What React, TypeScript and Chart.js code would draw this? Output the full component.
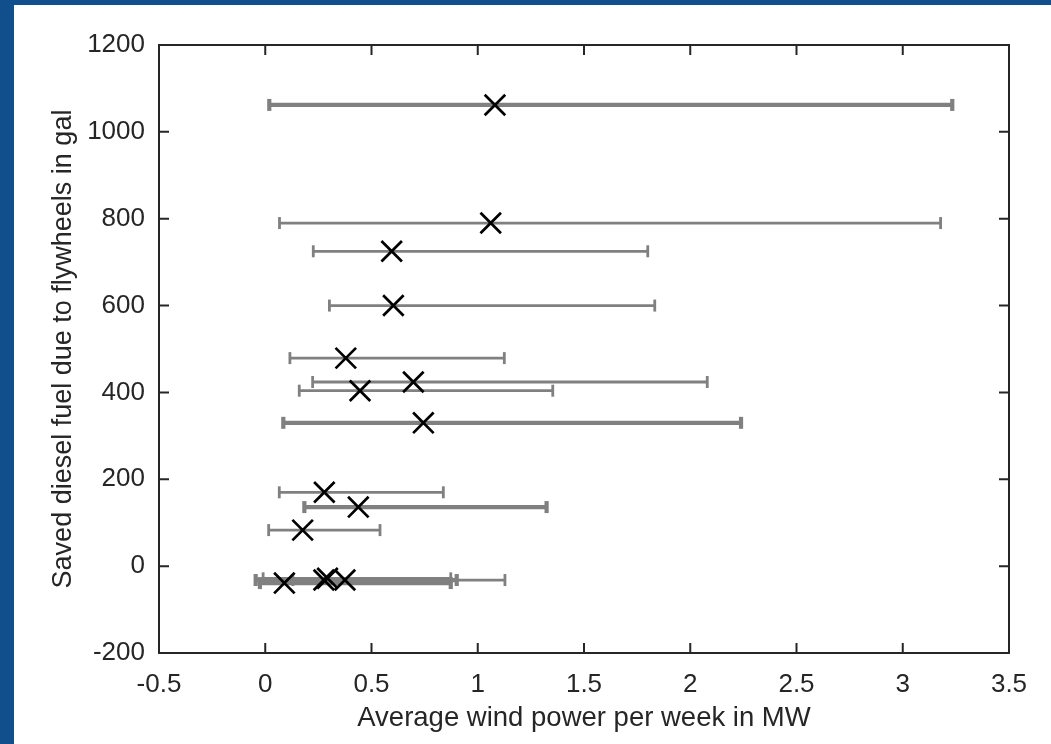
import React, { useEffect, useRef } from "react";
import { Chart, registerables } from "chart.js";

Chart.register(...registerables);

// Average wind power per week (MW) – marker position
const windMean = [1.081, 1.061, 0.595, 0.603, 0.379, 0.697, 0.446, 0.744, 0.278, 0.438, 0.176, 0.09, 0.276, 0.293, 0.375];
// Saved diesel fuel (gal)
const savedFuel = [1062, 790, 725, 600, 479, 424, 404, 330, 170, 136, 83, -39, -32, -28, -32];
// Error bar ends (MW)
const windLow = [0.019, 0.067, 0.226, 0.302, 0.116, 0.223, 0.16, 0.085, 0.066, 0.184, 0.016, -0.025, -0.045, -0.01, 0.13];
const windHigh = [3.233, 3.178, 1.8, 1.833, 1.125, 2.08, 1.353, 2.239, 0.838, 1.324, 0.54, 0.873, 0.901, 0.873, 1.128];

const xTickLabels = ["-0.5", "0", "0.5", "1", "1.5", "2", "2.5", "3", "3.5"];
const yTickLabels = ["-200", "0", "200", "400", "600", "800", "1000", "1200"];

// styling: which error bars are drawn heavier
const heavyBars = [true, false, false, false, false, false, false, true, false, true, false, true, true, false, false];

const FONT = "'Liberation Sans', Arial, Helvetica, sans-serif";
const INK = "#262626";
const GRAY = "#808080";

const framePlugin = {
  id: "matlabFrame",
  afterDraw(chart: any) {
    const { ctx, chartArea } = chart;
    const { left, top, right, bottom } = chartArea;
    const xs = chart.scales.x;
    const ys = chart.scales.y;
    ctx.save();
    ctx.strokeStyle = INK;
    ctx.lineWidth = 2;
    ctx.beginPath();
    ctx.rect(left, top, right - left, bottom - top);
    ctx.stroke();
    const tl = 10;
    ctx.beginPath();
    xs.ticks.forEach((t: any) => {
      const px = xs.getPixelForValue(t.value);
      ctx.moveTo(px, bottom);
      ctx.lineTo(px, bottom - tl);
      ctx.moveTo(px, top);
      ctx.lineTo(px, top + tl);
    });
    ys.ticks.forEach((t: any) => {
      const py = ys.getPixelForValue(t.value);
      ctx.moveTo(left, py);
      ctx.lineTo(left + tl, py);
      ctx.moveTo(right, py);
      ctx.lineTo(right - tl, py);
    });
    ctx.stroke();
    ctx.restore();
  },
};

export default function App() {
  const ref = useRef<HTMLCanvasElement | null>(null);

  useEffect(() => {
    document.body.style.margin = "0";
    const canvas = ref.current;
    if (!canvas) return;

    const markerSet = {
      label: "mean",
      data: windMean.map((x, i) => ({ x, y: savedFuel[i] })),
      showLine: false,
      pointStyle: "crossRot",
      pointRadius: 14.5,
      pointBorderWidth: 2.7,
      pointBorderColor: "#000000",
      pointBackgroundColor: "rgba(0,0,0,0)",
    };

    const barSets = windMean.map((_, i) => {
      const w = heavyBars[i] ? 4.2 : 2.8;
      return {
        label: "range" + i,
        data: [
          { x: windLow[i], y: savedFuel[i] },
          { x: windHigh[i], y: savedFuel[i] },
        ],
        showLine: true,
        borderColor: GRAY,
        borderWidth: w,
        pointStyle: "line",
        rotation: 90,
        pointRadius: 6,
        pointBorderWidth: w,
        pointBorderColor: GRAY,
        pointBackgroundColor: GRAY,
      };
    });

    const chart = new Chart(canvas, {
      type: "scatter",
      data: { datasets: [markerSet, ...barSets] as any },
      options: {
        animation: false,
        responsive: false,
        devicePixelRatio: 1,
        events: [],
        layout: { padding: { left: 0, top: 45, right: 42, bottom: 0 } },
        plugins: {
          legend: { display: false },
          tooltip: { enabled: false },
        },
        scales: {
          x: {
            type: "linear",
            min: -0.5,
            max: 3.5,
            grid: { display: false, drawTicks: false },
            border: { display: false },
            ticks: {
              stepSize: 0.5,
              padding: 16,
              color: INK,
              font: { family: FONT, size: 26 },
              callback: (v: any) => {
                const idx = Math.round((Number(v) + 0.5) / 0.5);
                return xTickLabels[idx] ?? String(v);
              },
            },
            title: {
              display: true,
              text: "Average wind power per week in MW",
              color: INK,
              font: { family: FONT, size: 27.5 },
              padding: { top: 0, bottom: 9 },
            },
            afterFit: (s: any) => {
              s.height = 91;
            },
          },
          y: {
            type: "linear",
            min: -200,
            max: 1200,
            grid: { display: false, drawTicks: false },
            border: { display: false },
            ticks: {
              stepSize: 200,
              padding: 14,
              color: INK,
              font: { family: FONT, size: 26 },
              callback: (v: any) => {
                const idx = Math.round((Number(v) + 200) / 200);
                return yTickLabels[idx] ?? String(v);
              },
            },
            title: {
              display: true,
              text: "Saved diesel fuel due to flywheels in gal",
              color: INK,
              font: { family: FONT, size: 27 },
              padding: { top: 47, bottom: 0 },
            },
            afterFit: (s: any) => {
              s.width = 159;
            },
          },
        },
      } as any,
      plugins: [framePlugin],
    });

    return () => chart.destroy();
  }, []);

  return (
    <div
      style={{
        position: "relative",
        width: 1051,
        height: 744,
        background: "#114e8c",
        overflow: "hidden",
      }}
    >
      <div
        style={{
          position: "absolute",
          left: 14,
          top: 5,
          right: 0,
          bottom: 0,
          background: "#ffffff",
        }}
      />
      <canvas
        ref={ref}
        width={1051}
        height={744}
        style={{ position: "absolute", left: 0, top: 0, width: 1051, height: 744 }}
      />
    </div>
  );
}
